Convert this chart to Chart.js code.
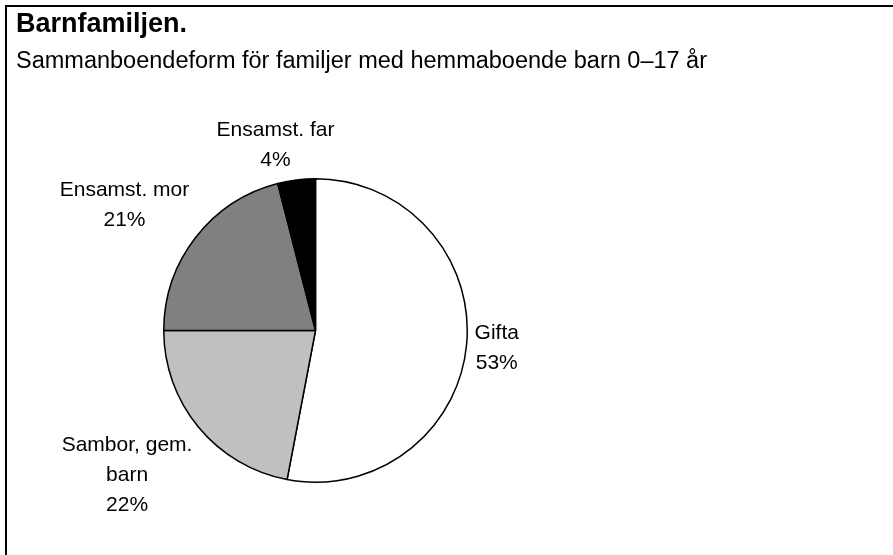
<!DOCTYPE html>
<html>
<head>
<meta charset="utf-8">
<script src="https://cdn.jsdelivr.net/npm/chart.js@4/dist/chart.umd.min.js"></script>
<style>
    html, body { margin: 0; padding: 0; background: #fff; }
    #wrap { position: relative; width: 893px; height: 555px; overflow: hidden; font-family: "Liberation Sans", Arial, sans-serif; }
    #frame { position: absolute; left: 5px; top: 5px; width: 900px; height: 560px; border-top: 2px solid #000; border-left: 2px solid #000; }
    #title { position: absolute; left: 16px; top: 10px; font-size: 27px; line-height: 27px; font-weight: bold; color: #000; white-space: nowrap; }
    #subtitle { position: absolute; left: 16px; top: 48px; font-size: 23.5px; line-height: 24px; color: #000; white-space: nowrap; }
    canvas { position: absolute; left: 0; top: 0; }
</style>
</head>
<body>
<div id="wrap">
    <div id="frame"></div>
    <canvas id="pie" width="893" height="555"></canvas>
    <div id="title">Barnfamiljen.</div>
    <div id="subtitle">Sammanboendeform för familjer med hemmaboende barn 0–17 år</div>
</div>
<script>
// Data
const categories = ['Gifta', ['Sambor, gem.', 'barn'], 'Ensamst. mor', 'Ensamst. far'];
const shares = [53, 22, 21, 4];
const sliceColors = ['#ffffff', '#c0c0c0', '#808080', '#000000'];

// Draw the category + percent labels outside each slice
const outsideLabels = {
    id: 'outsideLabels',
    afterDatasetsDraw(chart) {
        const ctx = chart.ctx;
        const meta = chart.getDatasetMeta(0);
        const lineHeight = 30;
        const gap = 8;

        ctx.save();
        ctx.font = '21px "Liberation Sans", Arial, sans-serif';
        ctx.fillStyle = '#000';
        ctx.textAlign = 'center';
        ctx.textBaseline = 'middle';

        meta.data.forEach((arc, i) => {
            const p = arc.getProps(['x', 'y', 'startAngle', 'endAngle', 'outerRadius'], true);
            const mid = (p.startAngle + p.endAngle) / 2;
            const dx = Math.cos(mid);
            const dy = Math.sin(mid);

            const cat = categories[i];
            const lines = (Array.isArray(cat) ? cat.slice() : [cat]);
            lines.push(shares[i] + '%');

            const w = Math.max(...lines.map(l => ctx.measureText(l).width));
            const h = lines.length * lineHeight;

            // anchor just outside the rim, block pushed away from the pie
            const ax = p.x + (p.outerRadius + gap) * dx;
            const ay = p.y + (p.outerRadius + gap) * dy;
            const fx = Math.max(-1, Math.min(1, dx * 2.7));
            const fy = Math.sign(dy) * Math.max(0, Math.min(1, (Math.abs(dy) - 0.1) * 2));
            const cx = ax + fx * w / 2;
            const cy = ay + fy * h / 2 + (dy > 0.3 ? -2 : 3);

            lines.forEach((l, j) => {
                ctx.fillText(l, cx, cy - h / 2 + lineHeight * (j + 0.5));
            });
        });
        ctx.restore();
    }
};

new Chart(document.getElementById('pie').getContext('2d'), {
    type: 'pie',
    data: {
        labels: categories,
        datasets: [{
            data: shares,
            backgroundColor: sliceColors,
            borderColor: '#000000',
            borderWidth: 1.5
        }]
    },
    options: {
        responsive: false,
        animation: false,
        layout: {
            padding: { left: 163, top: 178, right: 425, bottom: 72 }
        },
        plugins: {
            legend: { display: false },
            tooltip: { enabled: false },
            title: { display: false }
        }
    },
    plugins: [outsideLabels]
});
</script>
</body>
</html>
